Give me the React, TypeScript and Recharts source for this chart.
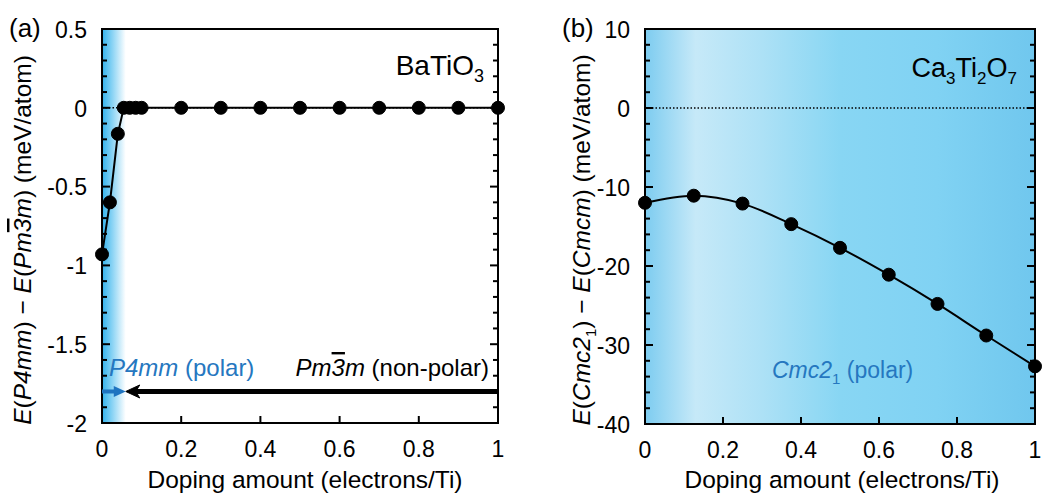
import React from 'react';
import { LineChart, Line, XAxis, YAxis, ReferenceLine, ReferenceArea, CartesianGrid } from 'recharts';

const FONT = '"Liberation Sans", Arial, Helvetica, sans-serif';
const BLUE_TEXT = '#2577c0';

// ---------- Panel (a): BaTiO3 ----------
const dopingA = [0, 0.02, 0.04, 0.055, 0.07, 0.085, 0.1, 0.2, 0.3, 0.4, 0.5, 0.6, 0.7, 0.8, 0.9, 1.0];
const energyA = [-0.93, -0.6, -0.165, 0, 0, 0, 0, 0, 0, 0, 0, 0, 0, 0, 0, 0];
const yMajorA = [-2, -1.5, -1, -0.5, 0, 0.5];
const yMajorLabelsA = ['-2', '-1.5', '-1', '-0.5', '0', '0.5'];
const yMinorA = [-1.9, -1.8, -1.7, -1.6, -1.4, -1.3, -1.2, -1.1, -0.9, -0.8, -0.7, -0.6, -0.4, -0.3, -0.2, -0.1, 0.1, 0.2, 0.3, 0.4];
const polarEdgeA = 0.06;
const arrowYA = -1.8;

// ---------- Panel (b): Ca3Ti2O7 ----------
const dopingB = [0, 0.125, 0.25, 0.375, 0.5, 0.625, 0.75, 0.875, 1.0];
const energyB = [-12.0, -11.1, -12.1, -14.7, -17.7, -21.1, -24.8, -28.8, -32.7];
const yMajorB = [-40, -30, -20, -10, 0, 10];
const yMajorLabelsB = ['-40', '-30', '-20', '-10', '0', '10'];
const yMinorB = [-38, -36, -34, -32, -28, -26, -24, -22, -18, -16, -14, -12, -8, -6, -4, -2, 2, 4, 6, 8];

// ---------- shared x axis ----------
const xTicks = [0, 0.2, 0.4, 0.6, 0.8, 1];
const xTickLabels = ['0', '0.2', '0.4', '0.6', '0.8', '1'];

const dataA = dopingA.map((x, i) => ({ x, y: energyA[i] }));
const dataB = dopingB.map((x, i) => ({ x, y: energyB[i] }));

const TICK_FS = 23;
const LABEL_FS = 24.5;
const TICK_W = 2;

const findIdx = (arr: number[], v: number) => arr.findIndex((m) => Math.abs(m - v) < 1e-9);

const makeLeftLabel = (majors: number[], labels: string[]) => (props: any) => {
  const { x, y, payload } = props;
  const idx = findIdx(majors, payload.value);
  if (idx < 0) return <g />;
  return (
    <text x={x - 15} y={y} dy="0.38em" textAnchor="end" fontSize={TICK_FS} fontFamily={FONT} fill="#000">
      {labels[idx]}
    </text>
  );
};

const bottomLabel = (props: any) => {
  const { x, y, payload } = props;
  const idx = findIdx(xTicks, payload.value);
  return (
    <text x={x} y={y + 34} textAnchor="middle" fontSize={TICK_FS} fontFamily={FONT} fill="#000">
      {xTickLabels[idx]}
    </text>
  );
};

// inward tick marks on both the left and right frame edges
const yTickShape = (len: number) => (p: any) => {
  const l = Math.min(p.x1, p.x2);
  const r = Math.max(p.x1, p.x2);
  const y = p.y1;
  return (
    <g>
      <line x1={l} y1={y} x2={l + len} y2={y} stroke="#000" strokeWidth={TICK_W} />
      <line x1={r} y1={y} x2={r - len} y2={y} stroke="#000" strokeWidth={TICK_W} />
    </g>
  );
};

// inward tick marks on the bottom frame edge
const xTickShape = (p: any) => {
  const b = Math.max(p.y1, p.y2);
  return <line x1={p.x1} y1={b} x2={p.x1} y2={b - 7} stroke="#000" strokeWidth={TICK_W} />;
};

const blueArrow = (p: any) => {
  const { x1, y1, x2 } = p;
  return (
    <g>
      <line x1={x1} y1={y1} x2={x2 - 10} y2={y1} stroke="#1f74c0" strokeWidth={4} />
      <polygon points={`${x2},${y1} ${x2 - 12},${y1 - 5.5} ${x2 - 12},${y1 + 5.5}`} fill="#1f74c0" />
    </g>
  );
};

const blackArrow = (p: any) => {
  const { x1, y1, x2 } = p;
  return (
    <g>
      <line x1={x1} y1={y1} x2={x2 + 9} y2={y1} stroke="#000" strokeWidth={5} />
      <polygon
        points={`${x2},${y1} ${x2 + 14},${y1 - 6.5} ${x2 + 10},${y1} ${x2 + 14},${y1 + 6.5}`}
        fill="#000"
        stroke="#000"
        strokeWidth={1}
      />
    </g>
  );
};

const allA = [...yMajorA, ...yMinorA].sort((a, b) => a - b);
const allB = [...yMajorB, ...yMinorB].sort((a, b) => a - b);

const W_A = 525;
const W_B = 526;
const H = 497;

function PanelA() {
  return (
    <LineChart width={W_A} height={H} data={dataA} margin={{ top: 29, left: 101, right: 27, bottom: 73 }}>
      <defs>
        <linearGradient id="gradA" x1="0" y1="0" x2="1" y2="0">
          <stop offset="0" stopColor="#33b3ec" />
          <stop offset="0.025" stopColor="#86d2f4" />
          <stop offset={polarEdgeA} stopColor="#ffffff" />
          <stop offset="1" stopColor="#ffffff" />
        </linearGradient>
      </defs>
      <CartesianGrid xAxisId="b" yAxisId="l" horizontal={false} vertical={false} fill="url(#gradA)" fillOpacity={1} stroke="none" />
      <XAxis
        xAxisId="b"
        dataKey="x"
        type="number"
        domain={[0, 1]}
        ticks={xTicks}
        interval={0}
        height={1}
        tickSize={0}
        tickMargin={0}
        tickLine={false}
        axisLine={false}
        tick={bottomLabel}
      />
      <YAxis
        yAxisId="l"
        type="number"
        domain={[-2, 0.5]}
        ticks={allA}
        interval={0}
        width={1}
        tickSize={0}
        tickMargin={0}
        tickLine={false}
        axisLine={false}
        tick={makeLeftLabel(yMajorA, yMajorLabelsA)}
      />
      {allA.map((v) => (
        <ReferenceLine key={`ya${v}`} xAxisId="b" yAxisId="l" y={v} shape={yTickShape(findIdx(yMajorA, v) >= 0 ? 8 : 5)} />
      ))}
      {xTicks.map((v) => (
        <ReferenceLine key={`xa${v}`} xAxisId="b" yAxisId="l" x={v} shape={xTickShape} />
      ))}
      <ReferenceLine xAxisId="b" yAxisId="l" y={0} stroke="#000" strokeWidth={1.5} strokeDasharray="1.5 2" />
      <ReferenceLine
        xAxisId="b"
        yAxisId="l"
        segment={[{ x: 1, y: arrowYA }, { x: polarEdgeA, y: arrowYA }]}
        shape={blackArrow}
      />
      <ReferenceLine
        xAxisId="b"
        yAxisId="l"
        segment={[{ x: 0, y: arrowYA }, { x: polarEdgeA, y: arrowYA }]}
        shape={blueArrow}
      />
      <ReferenceArea xAxisId="b" yAxisId="l" x1={0} x2={1} y1={-2} y2={0.5} fill="none" stroke="#000" strokeWidth={2} />
      <Line
        xAxisId="b"
        yAxisId="l"
        type="linear"
        dataKey="y"
        stroke="#000"
        strokeWidth={2}
        dot={{ r: 6.5, fill: '#000', stroke: '#000', strokeWidth: 1 }}
        isAnimationActive={false}
      />
      <text x={9} y={37} fontSize={26} fontFamily={FONT} fill="#000">(a)</text>
      <text x={484} y={75} textAnchor="end" fontSize={28} fontFamily={FONT} fill="#000">
        BaTiO<tspan dy={7} fontSize={18}>3</tspan>
      </text>
      <text x={109} y={376} fontSize={24} fontFamily={FONT} fill={BLUE_TEXT}>
        <tspan fontStyle="italic">P4mm</tspan>{' (polar)'}
      </text>
      <text x={489} y={376} textAnchor="end" fontSize={24} fontFamily={FONT} fill="#000">
        <tspan fontStyle="italic">Pm</tspan>
        <tspan fontStyle="italic" style={{ textDecoration: 'overline' }}>3</tspan>
        <tspan fontStyle="italic">m</tspan>{' (non-polar)'}
      </text>
      <text x={305} y={488} textAnchor="middle" fontSize={LABEL_FS} fontFamily={FONT} fill="#000">
        Doping amount (electrons/Ti)
      </text>
      <text transform="translate(31,240) rotate(-90)" textAnchor="middle" fontSize={LABEL_FS} fontFamily={FONT} fill="#000">
        <tspan fontStyle="italic">E</tspan>(<tspan fontStyle="italic">P4mm</tspan>){' \u2212 '}
        <tspan fontStyle="italic">E</tspan>(<tspan fontStyle="italic">Pm</tspan>
        <tspan fontStyle="italic" style={{ textDecoration: 'overline' }}>3</tspan>
        <tspan fontStyle="italic">m</tspan>){' (meV/atom)'}
      </text>
    </LineChart>
  );
}

function PanelB() {
  return (
    <LineChart width={W_B} height={H} data={dataB} margin={{ top: 29, left: 119, right: 16, bottom: 72 }}>
      <defs>
        <linearGradient id="gradB" x1="0" y1="0" x2="1" y2="0">
          <stop offset="0" stopColor="#7dccf0" />
          <stop offset="0.13" stopColor="#c6e9f8" />
          <stop offset="0.3" stopColor="#ade1f6" />
          <stop offset="0.5" stopColor="#88d6f3" />
          <stop offset="0.75" stopColor="#80d2f3" />
          <stop offset="1" stopColor="#70c7ee" />
        </linearGradient>
      </defs>
      <CartesianGrid xAxisId="b" yAxisId="l" horizontal={false} vertical={false} fill="url(#gradB)" fillOpacity={1} stroke="none" />
      <XAxis
        xAxisId="b"
        dataKey="x"
        type="number"
        domain={[0, 1]}
        ticks={xTicks}
        interval={0}
        height={1}
        tickSize={0}
        tickMargin={0}
        tickLine={false}
        axisLine={false}
        tick={bottomLabel}
      />
      <YAxis
        yAxisId="l"
        type="number"
        domain={[-40, 10]}
        ticks={allB}
        interval={0}
        width={1}
        tickSize={0}
        tickMargin={0}
        tickLine={false}
        axisLine={false}
        tick={makeLeftLabel(yMajorB, yMajorLabelsB)}
      />
      {allB.map((v) => (
        <ReferenceLine key={`yb${v}`} xAxisId="b" yAxisId="l" y={v} shape={yTickShape(findIdx(yMajorB, v) >= 0 ? 8 : 5)} />
      ))}
      {xTicks.map((v) => (
        <ReferenceLine key={`xb${v}`} xAxisId="b" yAxisId="l" x={v} shape={xTickShape} />
      ))}
      <ReferenceLine xAxisId="b" yAxisId="l" y={0} stroke="#000" strokeWidth={1.5} strokeDasharray="1.5 2" />
      <ReferenceArea xAxisId="b" yAxisId="l" x1={0} x2={1} y1={-40} y2={10} fill="none" stroke="#000" strokeWidth={2} />
      <Line
        xAxisId="b"
        yAxisId="l"
        type="monotone"
        dataKey="y"
        stroke="#000"
        strokeWidth={2}
        dot={{ r: 6.5, fill: '#000', stroke: '#000', strokeWidth: 1 }}
        isAnimationActive={false}
      />
      <text x={37} y={37} fontSize={26} fontFamily={FONT} fill="#000">(b)</text>
      <text x={492} y={77} textAnchor="end" fontSize={27} fontFamily={FONT} fill="#000">
        Ca<tspan dy={7} fontSize={17}>3</tspan>
        <tspan dy={-7}>Ti</tspan>
        <tspan dy={7} fontSize={17}>2</tspan>
        <tspan dy={-7}>O</tspan>
        <tspan dy={7} fontSize={17}>7</tspan>
      </text>
      <text x={247} y={378} fontSize={23} fontFamily={FONT} fill={BLUE_TEXT}>
        <tspan fontStyle="italic">Cmc2</tspan>
        <tspan dy={6} fontSize={15}>1</tspan>
        <tspan dy={-6}>{' (polar)'}</tspan>
      </text>
      <text x={317} y={488} textAnchor="middle" fontSize={LABEL_FS} fontFamily={FONT} fill="#000">
        Doping amount (electrons/Ti)
      </text>
      <text transform="translate(65,240) rotate(-90)" textAnchor="middle" fontSize={LABEL_FS} fontFamily={FONT} fill="#000">
        <tspan fontStyle="italic">E</tspan>(<tspan fontStyle="italic">Cmc2</tspan>
        <tspan dy={6} fontSize={15}>1</tspan>
        <tspan dy={-6}>){' \u2212 '}</tspan>
        <tspan fontStyle="italic">E</tspan>(<tspan fontStyle="italic">Cmcm</tspan>){' (meV/atom)'}
      </text>
    </LineChart>
  );
}

export default function App() {
  return (
    <div style={{ position: 'absolute', left: 0, top: 0, width: 1051, height: 497, background: '#fff' }}>
      <div style={{ position: 'absolute', left: 0, top: 0 }}>
        <PanelA />
      </div>
      <div style={{ position: 'absolute', left: W_A, top: 0 }}>
        <PanelB />
      </div>
    </div>
  );
}
